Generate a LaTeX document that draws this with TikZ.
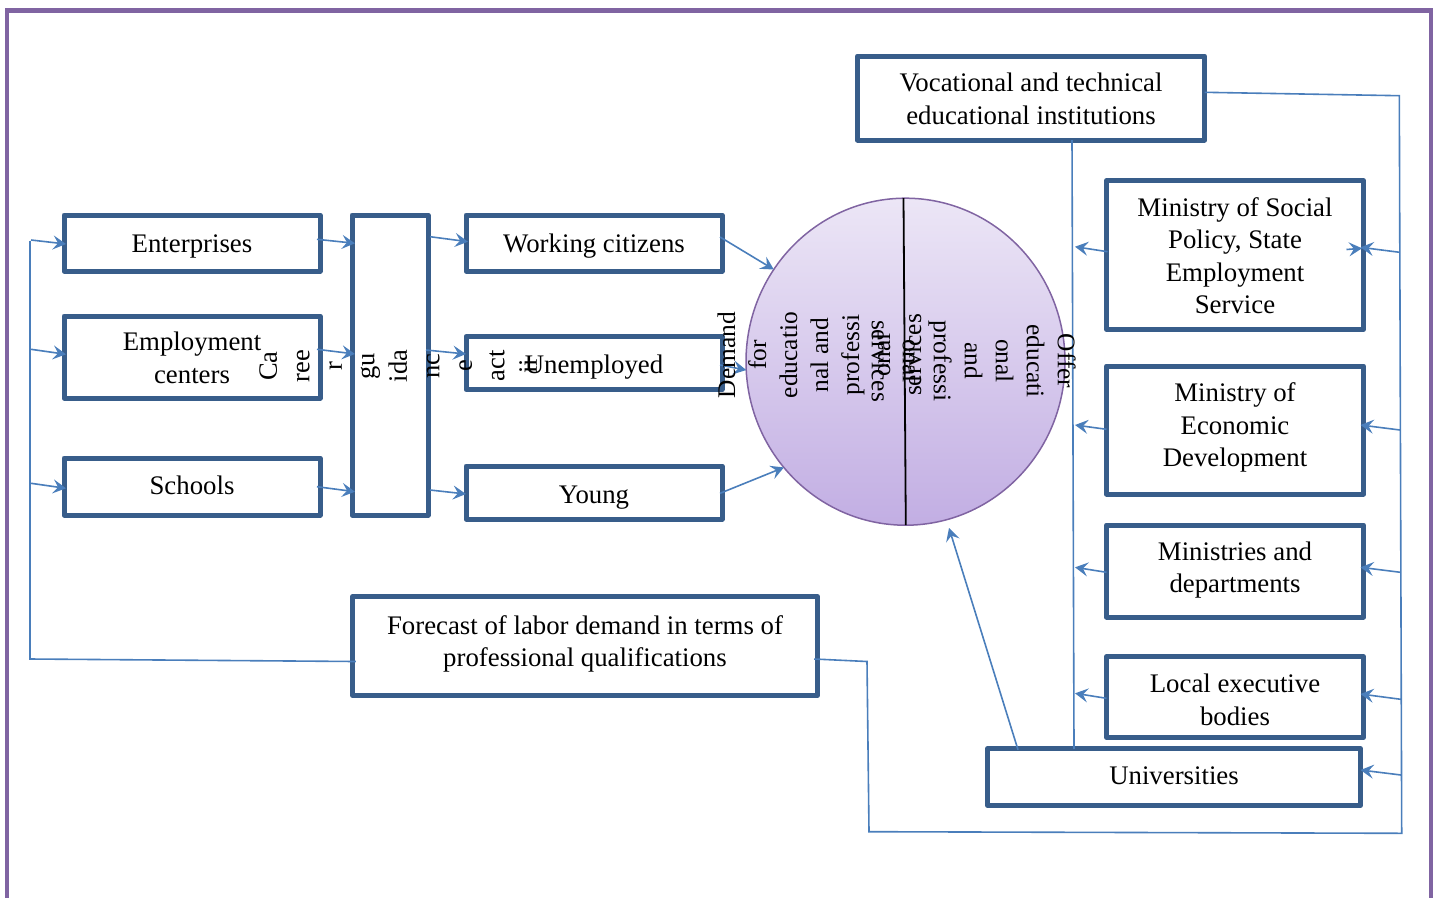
\documentclass[tikz,border=0pt]{standalone}
\usepackage{fontspec}
\setmainfont{Liberation Serif}
\usetikzlibrary{arrows.meta,calc,shapes.geometric}
\definecolor{boxline}{HTML}{385D8A}
\definecolor{linkcol}{HTML}{4A7EBB}
\definecolor{framecol}{HTML}{8064A2}
\definecolor{discTop}{HTML}{ECE6F6}
\definecolor{discBot}{HTML}{C2AEE3}

\begin{document}
\begin{tikzpicture}[x=1pt,y=-1pt,
  every node/.style={font=\fontsize{26.8}{32.5}\selectfont},
  box/.style={draw=boxline, line width=5pt, fill=white, rectangle, inner sep=0pt,
    outer sep=0pt, line join=round},
  boxtext/.style={align=center, inner sep=0pt, anchor=north,
    execute at begin node={\rule{0pt}{20pt}}},
  link/.style={draw=linkcol, line width=1.6pt},
  arr/.style={link, -{Stealth[length=13pt,width=14pt,inset=5pt]}},
  vtext/.style={align=center, inner sep=0pt},
  disctext/.style={align=center, inner sep=0pt, font=\fontsize{25.4}{31}\selectfont}]

\useasboundingbox (0,0) rectangle (1437,897);

% outer frame (open at the bottom)
\draw[framecol, line width=4.3pt] (7,905) -- (7,10.5) -- (1431,10.5) -- (1431,905);

% boxes
\node[box, minimum width=256pt, minimum height=56pt] (ent) at (192,243) {};
\node[box, minimum width=256pt, minimum height=82pt] (emp) at (192,357) {};
\node[box, minimum width=256pt, minimum height=57pt] (sch) at (192,486.5) {};
\node[box, minimum width=76pt, minimum height=300pt] (car) at (390,365) {};
\node[box, minimum width=256pt, minimum height=56pt] (wrk) at (594,243) {};
\node[box, minimum width=256pt, minimum height=53pt] (une) at (594,363) {};
\node[box, minimum width=256pt, minimum height=53pt] (yng) at (594,492.5) {};
\node[box, minimum width=347pt, minimum height=84pt] (voc) at (1031,98) {};
\node[box, minimum width=257pt, minimum height=148.5pt] (msp) at (1235,255) {};
\node[box, minimum width=257pt, minimum height=128pt] (med) at (1235,430) {};
\node[box, minimum width=257pt, minimum height=92pt] (mnd) at (1235,571) {};
\node[box, minimum width=257pt, minimum height=80.5pt] (leb) at (1235,697) {};
\node[box, minimum width=373pt, minimum height=56.5pt] (uni) at (1174,777) {};
\node[box, minimum width=464.5pt, minimum height=99pt] (fc) at (585,646) {};

% box captions, set from the top of each box
\node[boxtext] (ent-t) at ($(ent.north)+(0,17.5)$) {Enterprises};
\node[boxtext] (emp-t) at ($(emp.north)+(0,16)$) {Employment\\centers};
\node[boxtext] (sch-t) at ($(sch.north)+(0,16.5)$) {Schools};
\node[boxtext] (wrk-t) at ($(wrk.north)+(0,17.5)$) {Working citizens};
\node[boxtext] (une-t) at ($(une.north)+(0,17)$) {Unemployed};
\node[boxtext] (yng-t) at ($(yng.north)+(0,17.5)$) {Young};
\node[boxtext] (voc-t) at ($(voc.north)+(0,17)$) {Vocational and technical\\educational institutions};
\node[boxtext] (msp-t) at ($(msp.north)+(0,16.5)$) {Ministry of Social\\Policy, State\\Employment\\Service};
\node[boxtext] (med-t) at ($(med.north)+(0,16.5)$) {Ministry of\\Economic\\Development};
\node[boxtext] (mnd-t) at ($(mnd.north)+(0,16.5)$) {Ministries and\\departments};
\node[boxtext] (leb-t) at ($(leb.north)+(0,17)$) {Local executive\\bodies};
\node[boxtext] (uni-t) at ($(uni.north)+(0,16)$) {Universities};
\node[boxtext] (fc-t) at ($(fc.north)+(0,18.5)$) {Forecast of labor demand in terms of\\professional qualifications};

% demand / offer disc
\node[ellipse, draw=framecol, line width=1.5pt, top color=discTop, bottom color=discBot,
  minimum width=319pt, minimum height=327pt, inner sep=0pt, outer sep=0pt] (disc) at (905.5,361.7) {};
\draw[black, line width=1.8pt] ($(disc.north)+(-2,0)$) -- ($(disc.south)+(0.3,0)$);

% left feed bus
\coordinate (lb0) at (30,241);
\coordinate (lb1) at (30,659);
\coordinate (b1) at (31,240);
\coordinate (b2) at (31,349.3);
\coordinate (b3) at (31,483.3);
\draw[link] (lb0) -- (lb1) -- ($(fc.west)+(3,15.5)$);
\draw[arr] (b1) -- ($(ent.west)+(2,1)$);
\draw[arr] (b2) -- ($(emp.west)+(2,-2.7)$);
\draw[arr] (b3) -- ($(sch.west)+(2,1.8)$);

% into career guidance
\draw[arr] ($(ent.east)+(-3,-3.7)$) -- ($(car.north west)+(3,28.3)$);
\draw[arr] ($(emp.east)+(-3,-7.7)$) -- ($(car.north west)+(3,139)$);
\draw[arr] ($(sch.east)+(-3,0.2)$) -- ($(car.north west)+(3,276.7)$);

% out of career guidance
\draw[arr] ($(car.north east)+(2,21.7)$) -- ($(wrk.west)+(2,-1.3)$);
\draw[arr] ($(car.north east)+(-2,135)$) -- ($(une.west)+(0,-9)$);
\draw[arr] ($(car.north east)+(2,275)$) -- ($(yng.west)+(0,1.5)$);

% groups to the disc
\draw[arr] ($(wrk.east)+(-2,-6)$) -- (disc.145.7);
\draw[arr] ($(une.east)+(-2,2)$) -- (disc.183);
\draw[arr] ($(yng.east)+(-2,0.8)$) -- (disc.221);
\draw[arr] ($(uni.north west)+(30.5,1)$) -- ($(disc.center)+(43.5,166.3)$);

% supply line between institutions and universities
\draw[link] ($(voc.south)+(41,0)$) -- ($(uni.north west)+(86.5,0)$);
\coordinate (s1) at (1075,246.7);
\coordinate (s2) at (1075,425);
\coordinate (s3) at (1075,567.3);
\coordinate (s4) at (1075,693.3);
\draw[arr] ($(msp.west)+(1,-3.3)$) -- (s1);
\draw[arr] ($(med.west)+(0,-0.7)$) -- (s2);
\draw[arr] ($(mnd.west)+(0,1.3)$) -- (s3);
\draw[arr] ($(leb.west)+(0,1.3)$) -- (s4);

% right feedback bus
\coordinate (rb1) at (1399.3,95.7);
\coordinate (rb2) at (1401.7,833.3);
\coordinate (rb3) at (869,831.7);
\coordinate (rb4) at (867,661.5);
\draw[link] ($(voc.east)+(0,-5.7)$) -- (rb1) -- (rb2) -- (rb3) -- (rb4) -- ($(fc.east)+(-3,13)$);
\coordinate (r1) at (1399.6,252.3);
\coordinate (r2) at (1400,430);
\coordinate (r3) at (1400.5,572.3);
\coordinate (r4) at (1400.8,699.3);
\coordinate (r5) at (1401,775);
\draw[arr] (r1) -- ($(msp.east)+(-3,-7.7)$);
\draw[arr] (r2) -- ($(med.east)+(-3,-5)$);
\draw[arr] (r3) -- ($(mnd.east)+(-3,-3.7)$);
\draw[arr] (r4) -- ($(leb.east)+(-3,-3)$);
\draw[arr] (r5) -- ($(uni.east)+(0,-7)$);
\draw[arr] ($(msp.east)+(-17,-5.5)$) -- ($(msp.east)+(-1.5,-6.7)$);

% rotated labels
\node[vtext, rotate=90, font=\fontsize{26.5}{32.5}\selectfont] (cartext) at (398,366) {Ca\\ree\\r\\gu\\ida\\nc\\e\\act\\ii};
\node[disctext, rotate=90] (demand) at (819.3,355) {Demand\\for\\educatio\\nal and\\professi\\onal\\services};
\node[disctext, rotate=-90] (offer) at (973.8,361) {Offer\\educati\\onal\\and\\professi\\onal\\services};
\end{tikzpicture}
\end{document}
